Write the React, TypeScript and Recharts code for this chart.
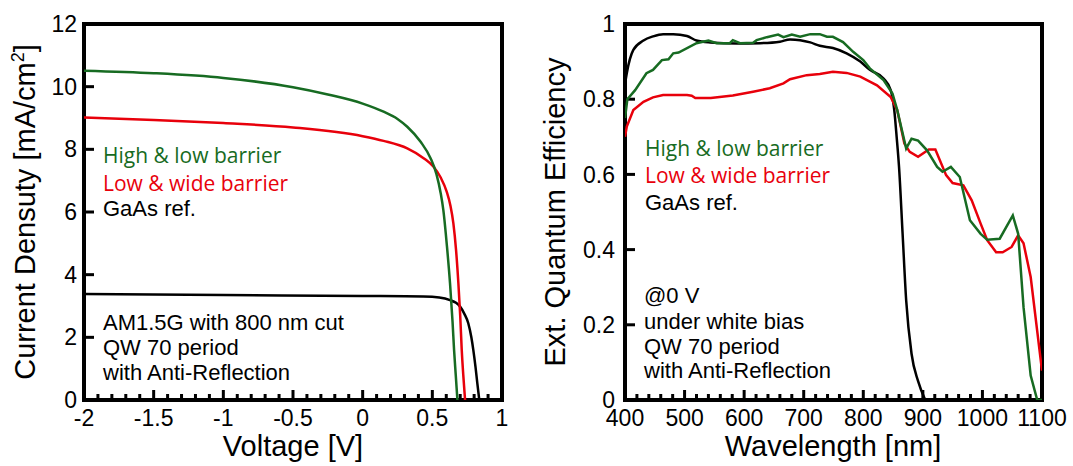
import React from "react";
import {
  LineChart,
  Line,
  XAxis,
  YAxis,
  ReferenceArea,
  ReferenceLine,
} from "recharts";

// J-V curves (voltage in V, current density in mA/cm2)
const highLowV = [-2, -1.5, -1, -0.5, -0.25, 0, 0.15, 0.25, 0.32, 0.416, 0.488, 0.53, 0.56, 0.579, 0.605, 0.627, 0.645, 0.656, 0.668, 0.68];
const highLowJ = [10.51, 10.43, 10.28, 9.98, 9.75, 9.46, 9.2, 8.97, 8.72, 8.24, 7.71, 7.2, 6.6, 6.06, 4.9, 3.72, 2.5, 1.6, 0.8, 0];
const lowWideV = [-2, -1.5, -1, -0.5, 0, 0.15, 0.32, 0.44, 0.507, 0.56, 0.603, 0.63, 0.651, 0.67, 0.687, 0.7, 0.711, 0.722, 0.735];
const lowWideJ = [9.02, 8.94, 8.84, 8.7, 8.42, 8.27, 8.03, 7.71, 7.45, 7.1, 6.65, 6.2, 5.64, 4.8, 3.72, 2.7, 1.6, 0.8, 0];
const gaasV = [-2, -1, 0, 0.435, 0.55, 0.627, 0.67, 0.699, 0.73, 0.758, 0.78, 0.794, 0.81, 0.823, 0.837];
const gaasJ = [3.38, 3.35, 3.32, 3.3, 3.27, 3.19, 3.1, 2.98, 2.75, 2.45, 2.0, 1.6, 1.05, 0.53, 0];

// EQE spectra (wavelength in nm)
const highLowNm = [400, 404, 417, 436, 447, 462, 473, 481, 490, 520, 540, 554, 576, 581, 593, 615, 621, 638, 657, 666, 680, 694, 711, 727, 739, 749, 766, 783, 800, 811, 834, 849, 857, 872, 881, 892, 907, 924, 933, 947, 962, 979, 997, 1008, 1029, 1051, 1060, 1069, 1081, 1092, 1100];
const highLowEqe = [0.75, 0.8, 0.824, 0.869, 0.878, 0.904, 0.906, 0.922, 0.924, 0.949, 0.956, 0.949, 0.949, 0.957, 0.949, 0.95, 0.957, 0.965, 0.972, 0.965, 0.972, 0.966, 0.973, 0.973, 0.966, 0.966, 0.952, 0.926, 0.904, 0.882, 0.851, 0.815, 0.771, 0.669, 0.695, 0.69, 0.664, 0.62, 0.607, 0.62, 0.593, 0.478, 0.442, 0.426, 0.429, 0.491, 0.442, 0.247, 0.065, 0, 0];
const lowWideNm = [400, 403, 414, 431, 447, 464, 504, 512, 518, 544, 581, 615, 643, 666, 677, 705, 727, 749, 772, 795, 811, 823, 846, 857, 869, 878, 892, 910, 921, 939, 950, 968, 982, 997, 1008, 1023, 1034, 1049, 1060, 1069, 1081, 1100];
const lowWideEqe = [0.7, 0.727, 0.771, 0.793, 0.805, 0.811, 0.811, 0.809, 0.803, 0.803, 0.81, 0.82, 0.829, 0.842, 0.853, 0.864, 0.867, 0.873, 0.87, 0.86, 0.847, 0.837, 0.806, 0.771, 0.682, 0.66, 0.647, 0.666, 0.666, 0.598, 0.577, 0.571, 0.531, 0.469, 0.425, 0.393, 0.393, 0.407, 0.438, 0.417, 0.327, 0.078];
const gaasNm = [400, 403, 414, 431, 447, 464, 481, 504, 520, 543, 588, 627, 660, 677, 694, 711, 727, 749, 772, 795, 811, 834, 846, 852, 856, 860, 866, 872, 881, 892, 904];
const gaasEqe = [0.84, 0.869, 0.931, 0.956, 0.967, 0.973, 0.973, 0.968, 0.956, 0.951, 0.948, 0.949, 0.953, 0.959, 0.957, 0.951, 0.942, 0.936, 0.922, 0.9, 0.878, 0.855, 0.824, 0.771, 0.7, 0.62, 0.442, 0.265, 0.123, 0.05, 0];

const jvXTicks = [-2, -1.5, -1, -0.5, 0, 0.5, 1];
const jvYTicks = [0, 2, 4, 6, 8, 10, 12];
const eqeXTicks = [400, 500, 600, 700, 800, 900, 1000, 1100];
const eqeYTicks = [0, 0.2, 0.4, 0.6, 0.8, 1];

const GREEN = "#176b22";
const RED = "#e8000b";
const FONT = "'Liberation Sans', Arial, sans-serif";
const LEGEND_FONT = "'Open Sans', sans-serif";

const zip = (xs: number[], ys: number[]) => xs.map((x, i) => ({ x, y: ys[i] }));

// minor ticks between majors
const minorTicks = (from: number, to: number, step: number, majors: number[]) => {
  const out: number[] = [];
  const n = Math.round((to - from) / step);
  for (let i = 1; i < n; i++) {
    const v = +(from + i * step).toFixed(6);
    if (!majors.some((m) => Math.abs(m - v) < 1e-6)) out.push(v);
  }
  return out;
};

const PLOT_H = 376;
const tickStyle = { fontSize: 23, fill: "#000", fontFamily: FONT };

const JVChart = () => {
  const xPerPx = 3 / 418;
  const yPerPx = 12 / PLOT_H;
  const minors = minorTicks(-2, 1, 0.1, jvXTicks);
  return (
    <LineChart width={520} height={466} margin={{ top: 24, right: 18, left: 0, bottom: 0 }}>
      <XAxis
        dataKey="x"
        type="number"
        domain={[-2, 1]}
        ticks={jvXTicks}
        interval={0}
        allowDataOverflow
        axisLine={false}
        tickLine={false}
        tickSize={0}
        tickMargin={10}
        height={66}
        tick={tickStyle}
      />
      <YAxis
        type="number"
        domain={[0, 12]}
        ticks={jvYTicks}
        interval={0}
        allowDataOverflow
        axisLine={false}
        tickLine={false}
        tickSize={0}
        tickMargin={7}
        width={84}
        tick={tickStyle}
      />
      {jvXTicks.slice(1, -1).map((t) => (
        <ReferenceLine key={"mx" + t} segment={[{ x: t, y: 0 }, { x: t, y: 10 * yPerPx }]} stroke="#000" strokeWidth={3} />
      ))}
      {minors.map((t) => (
        <ReferenceLine key={"nx" + t} segment={[{ x: t, y: 0 }, { x: t, y: 6 * yPerPx }]} stroke="#000" strokeWidth={3} />
      ))}
      {jvYTicks.slice(1, -1).map((t) => (
        <ReferenceLine key={"my" + t} segment={[{ x: -2, y: t }, { x: -2 + 10 * xPerPx, y: t }]} stroke="#000" strokeWidth={3} />
      ))}
      <Line data={zip(gaasV, gaasJ)} dataKey="y" type="monotone" stroke="#000" strokeWidth={2.5} dot={false} isAnimationActive={false} />
      <Line data={zip(lowWideV, lowWideJ)} dataKey="y" type="monotone" stroke={RED} strokeWidth={2.5} dot={false} isAnimationActive={false} />
      <Line data={zip(highLowV, highLowJ)} dataKey="y" type="monotone" stroke={GREEN} strokeWidth={2.5} dot={false} isAnimationActive={false} />
      <ReferenceArea x1={-2} x2={1} y1={0} y2={12} fill="none" fillOpacity={0} stroke="#000" strokeWidth={4} ifOverflow="visible" />
    </LineChart>
  );
};

const EQEChart = () => {
  const xPerPx = 700 / 417;
  const yPerPx = 1 / PLOT_H;
  const minors = minorTicks(400, 1100, 20, eqeXTicks);
  return (
    <LineChart width={543} height={466} margin={{ top: 24, right: 31, left: 0, bottom: 0 }}>
      <XAxis
        dataKey="x"
        type="number"
        domain={[400, 1100]}
        ticks={eqeXTicks}
        interval={0}
        allowDataOverflow
        axisLine={false}
        tickLine={false}
        tickSize={0}
        tickMargin={10}
        height={66}
        tick={tickStyle}
      />
      <YAxis
        type="number"
        domain={[0, 1]}
        ticks={eqeYTicks}
        interval={0}
        allowDataOverflow
        axisLine={false}
        tickLine={false}
        tickSize={0}
        tickMargin={10}
        width={95}
        tick={tickStyle}
      />
      {eqeXTicks.slice(1, -1).map((t) => (
        <ReferenceLine key={"mx" + t} segment={[{ x: t, y: 0 }, { x: t, y: 10 * yPerPx }]} stroke="#000" strokeWidth={3} />
      ))}
      {minors.map((t) => (
        <ReferenceLine key={"nx" + t} segment={[{ x: t, y: 0 }, { x: t, y: 6 * yPerPx }]} stroke="#000" strokeWidth={3} />
      ))}
      {eqeYTicks.slice(1, -1).map((t) => (
        <ReferenceLine key={"my" + t} segment={[{ x: 400, y: t }, { x: 400 + 10 * xPerPx, y: t }]} stroke="#000" strokeWidth={3} />
      ))}
      <Line data={zip(gaasNm, gaasEqe)} dataKey="y" type="monotone" stroke="#000" strokeWidth={2.5} dot={false} isAnimationActive={false} />
      <Line data={zip(lowWideNm, lowWideEqe)} dataKey="y" type="linear" stroke={RED} strokeWidth={2.5} dot={false} isAnimationActive={false} />
      <Line data={zip(highLowNm, highLowEqe)} dataKey="y" type="linear" stroke={GREEN} strokeWidth={2.5} dot={false} isAnimationActive={false} />
      <ReferenceArea x1={400} x2={1100} y1={0} y2={1} fill="none" fillOpacity={0} stroke="#000" strokeWidth={4} ifOverflow="visible" />
    </LineChart>
  );
};

const Annotations = () => (
  <svg width={1073} height={466} style={{ position: "absolute", left: 0, top: 0, pointerEvents: "none" }}>
    {/* axis titles */}
    <text x={293} y={456} textAnchor="middle" fontSize={29} fontFamily={FONT}>Voltage [V]</text>
    <text x={833} y={456} textAnchor="middle" fontSize={29} fontFamily={FONT}>Wavelength [nm]</text>
    <text x={35} y={212} transform="rotate(-90 35 212)" textAnchor="middle" fontSize={29} fontFamily={FONT}>
      Current Densuty [mA/cm<tspan dy={-11} fontSize={18}>2</tspan><tspan dy={11}>]</tspan>
    </text>
    <text x={565} y={212} transform="rotate(-90 565 212)" textAnchor="middle" fontSize={29} fontFamily={FONT}>
      Ext. Quantum Efficiency
    </text>

    {/* left panel notes */}
    <text x={103} y={163} fontSize={21} fontFamily={LEGEND_FONT} fill={GREEN}>High &amp; low barrier</text>
    <text x={103} y={191} fontSize={21} fontFamily={LEGEND_FONT} fill={RED}>Low &amp; wide barrier</text>
    <text x={103} y={216} fontSize={22} fontFamily={FONT}>GaAs ref.</text>
    <text x={103} y={330} fontSize={22} fontFamily={FONT}>AM1.5G with 800 nm cut</text>
    <text x={103} y={355} fontSize={22} fontFamily={FONT}>QW 70 period</text>
    <text x={103} y={380} fontSize={22} fontFamily={FONT}>with Anti-Reflection</text>

    {/* right panel notes */}
    <text x={645} y={156} fontSize={21} fontFamily={LEGEND_FONT} fill={GREEN}>High &amp; low barrier</text>
    <text x={645} y={183} fontSize={21} fontFamily={LEGEND_FONT} fill={RED}>Low &amp; wide barrier</text>
    <text x={645} y={210} fontSize={22} fontFamily={FONT}>GaAs ref.</text>
    <text x={644} y={303} fontSize={22} fontFamily={FONT}>@0 V</text>
    <text x={644} y={329} fontSize={22} fontFamily={FONT}>under white bias</text>
    <text x={644} y={354} fontSize={22} fontFamily={FONT}>QW 70 period</text>
    <text x={644} y={378} fontSize={22} fontFamily={FONT}>with Anti-Reflection</text>
  </svg>
);

export default function App() {
  return (
    <div style={{ position: "absolute", left: 0, top: 0, width: 1073, height: 466, background: "#fff" }}>
      <div style={{ position: "absolute", left: 0, top: 0 }}>
        <JVChart />
      </div>
      <div style={{ position: "absolute", left: 530, top: 0 }}>
        <EQEChart />
      </div>
      <Annotations />
    </div>
  );
}
